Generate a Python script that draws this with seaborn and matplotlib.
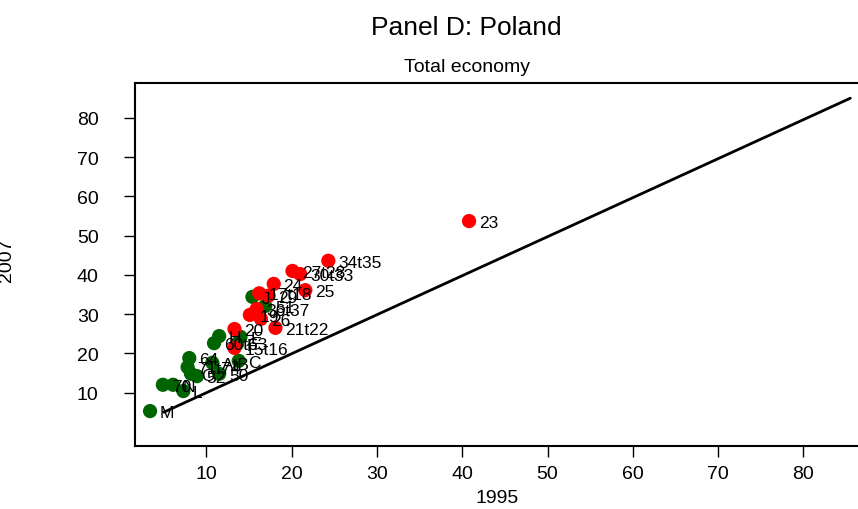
import matplotlib
matplotlib.use("Agg")
import matplotlib.pyplot as plt
import seaborn as sns
import pandas as pd
from matplotlib import font_manager

# ---- data ----
labels = ["M", "70", "N", "L", "64", "71t74", "O", "52", "AtB", "50", "C",
          "60t63", "H", "E", "F", "J", "51",
          "23", "34t35", "27t28", "30t33", "24", "25", "17t18", "29",
          "36t37", "19", "26", "21t22", "20", "15t16"]
x1995 = [3.4, 4.9, 6.1, 7.3, 8.0, 7.8, 8.2, 8.9, 10.7, 11.5, 13.8,
         10.9, 11.5, 14.0, 13.6, 15.4, 16.9,
         40.8, 24.3, 20.1, 21.0, 17.9, 21.6, 16.2, 17.3,
         15.9, 15.1, 16.4, 18.1, 13.3, 13.3]
y2007 = [5.3, 12.0, 12.0, 10.4, 18.8, 16.5, 14.8, 14.2, 17.6, 14.8, 18.1,
         22.6, 24.4, 24.2, 22.4, 34.4, 32.1,
         53.7, 43.6, 41.0, 40.2, 37.7, 36.1, 35.3, 34.7,
         31.3, 29.8, 28.8, 26.5, 26.2, 21.4]
group = ["services"] * 17 + ["manufacturing"] * 14
ticks = [10, 20, 30, 40, 50, 60, 70, 80]

df = pd.DataFrame({"label": labels, "x": x1995, "y": y2007, "group": group})

sns.set_theme(style="white")
avail = {f.name for f in font_manager.fontManager.ttflist}
fam = "Liberation Sans Narrow" if "Liberation Sans Narrow" in avail else "Liberation Sans"
plt.rcParams["font.family"] = [fam, "DejaVu Sans"]
plt.rcParams["text.color"] = "black"
plt.rcParams["axes.labelcolor"] = "black"

fig = plt.figure(figsize=(8.58, 5.10), dpi=100)
ax = fig.add_axes([0.157, 0.1235, 0.845, 0.712])

sns.lineplot(x=[5, 85.5], y=[5, 85], color="black", linewidth=2, ax=ax)
sns.scatterplot(data=df, x="x", y="y", hue="group",
                palette={"services": "#006400", "manufacturing": "#FF0000"},
                s=105, edgecolor="none", legend=False, ax=ax, zorder=3)
for lab, xv, yv in zip(labels, x1995, y2007):
    ax.annotate(lab, (xv, yv), xytext=(7, -1), textcoords="offset points",
                ha="left", va="center", fontsize=12.5, color="black", zorder=4)

ax.set_xlim(1.6, 86.6)
ax.set_ylim(-3.6, 88.9)
ax.set_xticks(ticks)
ax.set_yticks(ticks)
ax.set_xticklabels([str(t) for t in ticks])
ax.set_yticklabels([str(t) for t in ticks])
ax.tick_params(axis="both", direction="out", length=8, width=1, colors="black",
               labelsize=14, bottom=True, left=True)
ax.tick_params(axis="x", pad=6)
ax.tick_params(axis="y", pad=18)
for sp in ax.spines.values():
    sp.set_visible(True)
    sp.set_color("black")
    sp.set_linewidth(1.5)
ax.set_xlabel("1995", fontsize=14, labelpad=5, color="black")
ax.set_ylabel("")

fig.text(0.008, 0.49, "2007", rotation=90, ha="center", va="center", fontsize=14)
fig.text(0.544, 0.945, "Panel D: Poland", ha="center", va="center", fontsize=19)
fig.text(0.544, 0.868, "Total economy", ha="center", va="center", fontsize=14)

fig.savefig("out.png", dpi=100)
